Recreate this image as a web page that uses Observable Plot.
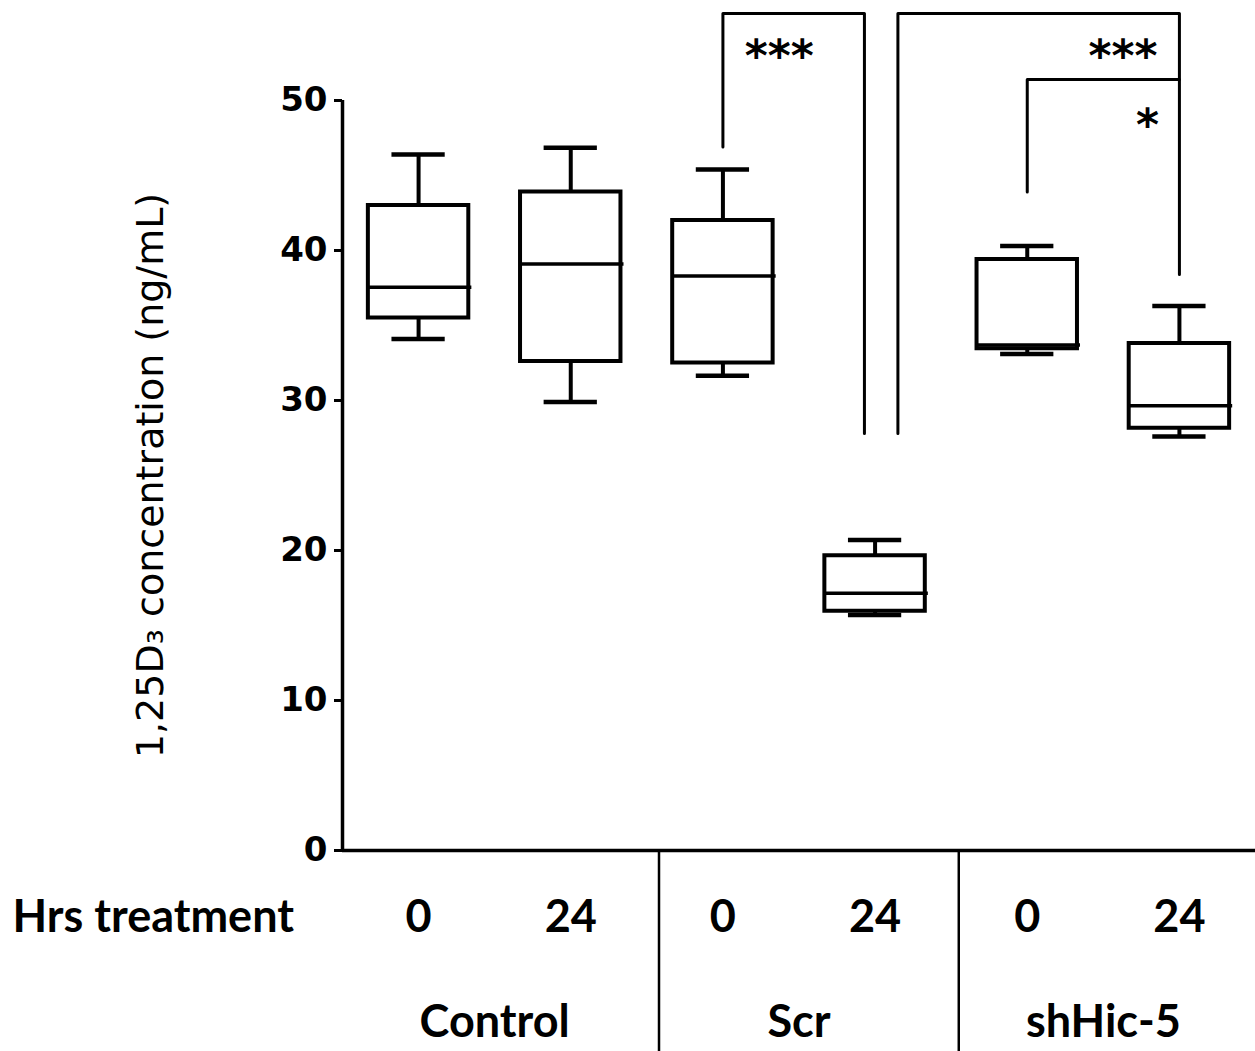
<!DOCTYPE html>
<html><head><meta charset="utf-8">
<script src="https://cdn.jsdelivr.net/npm/d3@7"></script>
<script src="https://cdn.jsdelivr.net/npm/@observablehq/plot@0.6"></script>
<style>body{margin:0;background:#fff}</style>
</head><body><div id="chart"></div>
<script>
// ---- data ----
const groups = ["Control", "Control", "Scr", "Scr", "shHic-5", "shHic-5"];
const hours = ["0", "24", "0", "24", "0", "24"];
const whiskerHigh = [46.4, 46.85, 45.4, 20.7, 40.3, 36.3];
const quartile3 = [43.0, 43.9, 42.0, 19.65, 39.4, 33.8];
const medians = [37.55, 39.1, 38.3, 17.15, 33.7, 29.65];
const quartile1 = [35.5, 32.6, 32.5, 15.95, 33.45, 28.15];
const whiskerLow = [34.1, 29.9, 31.65, 15.7, 33.1, 27.6];
const yTicks = [0, 10, 20, 30, 40, 50];
const groupDividers = [2.58, 4.55];
// significance brackets (x in box-position units, y in ng/mL)
const bracketLeftX = [3, 4.15, 5];
const bracketLeftY = [46.9, 27.8, 43.9];
const bracketRightX = [3.93, 6, 6];
const bracketRightY = [27.8, 38.4, 51.4];
const bracketTop = [55.8, 55.8, 51.4];
const sigText = ["***", "***", "*"];
const sigX = [3.37, 5.63, 5.79];
const sigY = [52.9, 52.9, 48.3];
const yLabel = "1,25D\u2083 concentration (ng/mL)";
const rowLabel = "Hrs treatment";

// ---- build tables ----
const boxes = hours.map((h, i) => ({
  pos: i + 1, group: groups[i], hrs: h,
  hi: whiskerHigh[i], q3: quartile3[i], med: medians[i], q1: quartile1[i], lo: whiskerLow[i]
}));
const groupLabels = [...new Set(groups)].map(g => ({
  name: g, pos: d3.mean(boxes.filter(b => b.group === g), b => b.pos)
}));
const bracketPts = [];
bracketLeftX.forEach((lx, i) => {
  bracketPts.push({b: i, x: lx, y: bracketLeftY[i]});
  bracketPts.push({b: i, x: lx, y: bracketTop[i]});
  bracketPts.push({b: i, x: bracketRightX[i], y: bracketTop[i]});
  bracketPts.push({b: i, x: bracketRightX[i], y: bracketRightY[i]});
});
const sigs = sigText.map((t, i) => ({t, x: sigX[i], y: sigY[i]}));

const boxHalf = 0.33, capHalf = 0.175;
const lowerFont = "Lato, 'Open Sans', sans-serif";

const chart = Plot.plot({
  width: 1255, height: 1051,
  marginLeft: 342, marginRight: 0, marginTop: 100, marginBottom: 201,
  x: {domain: [0.5, 6.5], axis: null},
  y: {domain: [0, 50], axis: null},
  style: {background: "white", overflow: "visible", color: "black"},
  marks: [
    // axes
    Plot.ruleY([0], {stroke: "black", strokeWidth: 3.5}),
    Plot.ruleX([0.5], {y1: 0, y2: 50, stroke: "black", strokeWidth: 3.5}),
    Plot.axisY({ticks: yTicks, anchor: "left", tickSize: 8, tickPadding: 7, label: null,
      fontSize: 34, fontWeight: "bold", fontFamily: "'DejaVu Sans', sans-serif", strokeWidth: 3, tickFormat: d => d}),
    Plot.ruleX(groupDividers, {y1: 0, y2: 0, insetBottom: -201, stroke: "black", strokeWidth: 2.5}),
    // whiskers
    Plot.ruleX(boxes, {x: "pos", y1: "q3", y2: "hi", stroke: "black", strokeWidth: 4}),
    Plot.ruleX(boxes, {x: "pos", y1: "lo", y2: "q1", stroke: "black", strokeWidth: 4}),
    Plot.ruleY(boxes, {y: "hi", x1: d => d.pos - capHalf, x2: d => d.pos + capHalf, stroke: "black", strokeWidth: 4.5}),
    Plot.ruleY(boxes, {y: "lo", x1: d => d.pos - capHalf, x2: d => d.pos + capHalf, stroke: "black", strokeWidth: 4.5}),
    // boxes
    Plot.rect(boxes, {x1: d => d.pos - boxHalf, x2: d => d.pos + boxHalf, y1: "q1", y2: "q3",
      fill: "white", stroke: "black", strokeWidth: 4}),
    Plot.ruleY(boxes, {y: "med", x1: d => d.pos - boxHalf, x2: d => d.pos + boxHalf + 0.02, stroke: "black", strokeWidth: 3.5}),
    // significance brackets
    Plot.line(bracketPts, {x: "x", y: "y", z: "b", stroke: "black", strokeWidth: 3, curve: "linear"}),
    Plot.text(sigs, {x: "x", y: "y", text: "t", fontSize: 44, fontWeight: "bold",
      fontFamily: "'DejaVu Sans', sans-serif", fill: "black"}),
    // y label
    Plot.text([yLabel], {frameAnchor: "left", textAnchor: "middle", rotate: -90, dx: -192, fontSize: 38,
      fontFamily: "'DejaVu Sans', sans-serif", fill: "black"}),
    // lower table
    Plot.text([rowLabel], {frameAnchor: "bottom-left", textAnchor: "start", dx: -330, dy: 81,
      fontSize: 45, fontWeight: "bold", fontFamily: lowerFont, fill: "black"}),
    Plot.text(boxes, {x: "pos", text: "hrs", frameAnchor: "bottom", dy: 81,
      fontSize: 45, fontWeight: "bold", fontFamily: lowerFont, fill: "black"}),
    Plot.text(groupLabels, {x: "pos", text: "name", frameAnchor: "bottom", dy: 186,
      fontSize: 45, fontWeight: "bold", fontFamily: lowerFont, fill: "black"})
  ]
});
document.getElementById("chart").appendChild(chart);
</script>
</body></html>
